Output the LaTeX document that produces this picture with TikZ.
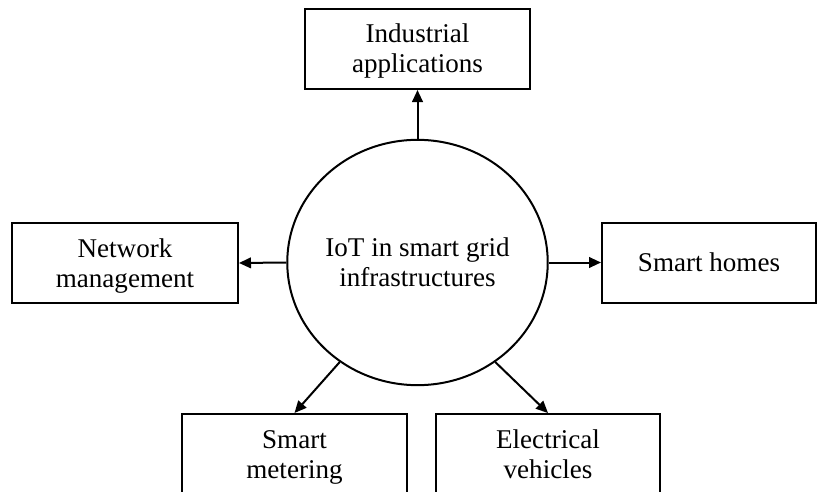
\documentclass[tikz,border=0pt]{standalone}
\usepackage{fontspec}
\setmainfont{Liberation Serif}
\usetikzlibrary{shapes.geometric,arrows.meta}
\newcommand{\ls}{\rule[-0.2\baselineskip]{0pt}{\baselineskip}}
\tikzset{
  box/.style={draw, line width=1.5pt, minimum width=#1, minimum height=60pt, inner sep=0pt, align=center, font=\fontsize{20.3}{22.5}\selectfont},
  box/.default=169pt,
  hub/.style={draw, ellipse, line width=1.5pt, minimum width=193.5pt, minimum height=184pt, inner sep=0pt, align=center, font=\fontsize{20.3}{22.5}\selectfont},
  link/.style={line width=1.5pt, -{Triangle[length=9pt,width=8pt]}}
}
\begin{document}
\begin{tikzpicture}[x=0.75pt,y=-0.75pt]
\useasboundingbox (0,0) rectangle (817,492);
\clip (0,0) rectangle (817,492);
\node[hub] (c) at (417.5,262.5) {\ls IoT in smart grid\\\ls infrastructures};
\node[box=169pt] (top) at (417.5,49) {\ls Industrial\\\ls applications};
\node[box=169.5pt] (net) at (125,263) {\ls Network\\\ls management};
\node[box=160.5pt] (home) at (709,262.5) {\ls Smart homes};
\node[box=169pt] (meter) at (294.5,454) {\ls Smart\\\ls metering};
\node[box=168pt] (elec) at (548,454) {\ls Electrical\\\ls vehicles};
\draw[link] (c.north) -- (top.south);
\draw[link] (c.west) -- (net.east);
\draw[link] (c.east) -- (home.west);
\draw[link] (c.232) -- (meter.north);
\draw[link] (c.-52) -- (elec.north);
\end{tikzpicture}
\end{document}
